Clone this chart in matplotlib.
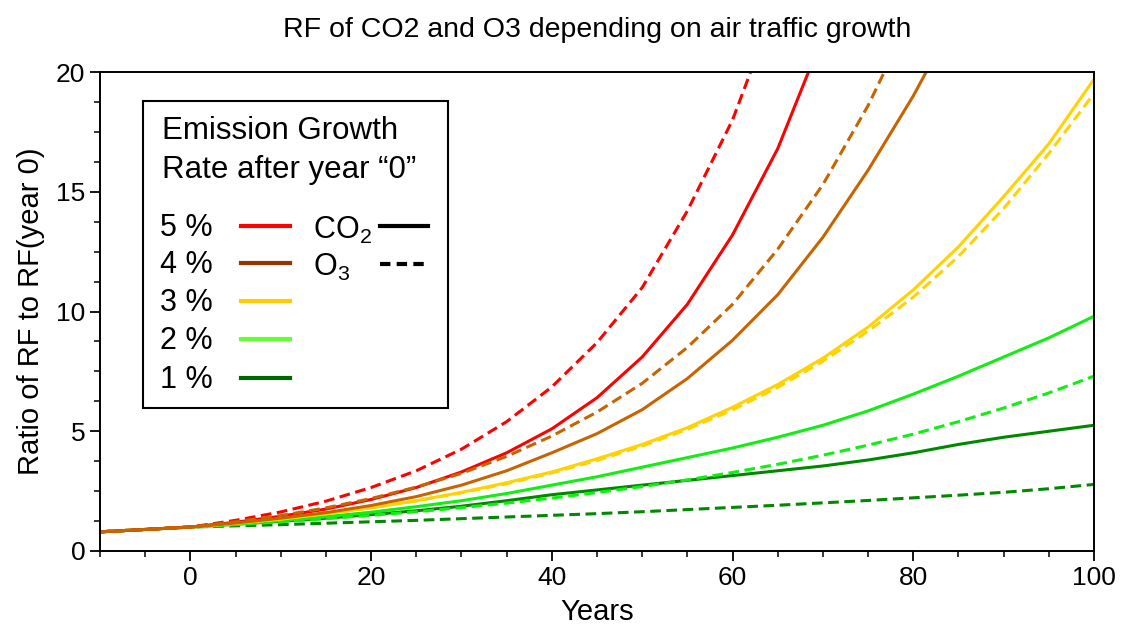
import numpy as np
import matplotlib
matplotlib.use("Agg")
import matplotlib.pyplot as plt
from matplotlib.lines import Line2D
from matplotlib.patches import Rectangle
from matplotlib.ticker import MultipleLocator

plt.rcParams['font.family'] = ['Liberation Sans', 'DejaVu Sans']
plt.rcParams['mathtext.fontset'] = 'custom'
plt.rcParams['mathtext.rm'] = 'Liberation Sans'
plt.rcParams['mathtext.it'] = 'Liberation Sans'

# years, every 5 years from -10
years = np.arange(-10, 101, 5)

# ratio of RF to RF(year 0)
co2_5 = [0.8, 0.9, 1.0, 1.2, 1.45, 1.75, 2.15, 2.65, 3.3, 4.1, 5.1, 6.4, 8.1, 10.3, 13.2, 16.8, 21.5]
o3_5 = [0.8, 0.9, 1.0, 1.28, 1.63, 2.08, 2.65, 3.35, 4.25, 5.4, 6.85, 8.7, 11.0, 14.2, 18.0, 23.0]
co2_4 = [0.8, 0.9, 1.0, 1.17, 1.37, 1.6, 1.9, 2.27, 2.75, 3.35, 4.1, 4.9, 5.9, 7.2, 8.8, 10.7, 13.1, 15.9, 19.0, 22.5]
o3_4 = [0.8, 0.9, 1.0, 1.22, 1.48, 1.8, 2.19, 2.67, 3.24, 3.95, 4.8, 5.8, 7.0, 8.5, 10.3, 12.6, 15.3, 18.6, 22.5]
co2_3 = [0.8, 0.9, 1.0, 1.15, 1.33, 1.55, 1.8, 2.1, 2.45, 2.85, 3.3, 3.85, 4.45, 5.15, 6.0, 6.95, 8.05, 9.35, 10.9, 12.7, 14.8, 17.0, 19.7]
o3_3 = [0.8, 0.9, 1.0, 1.16, 1.34, 1.56, 1.81, 2.09, 2.43, 2.81, 3.26, 3.78, 4.38, 5.08, 5.89, 6.83, 7.92, 9.18, 10.6, 12.3, 14.3, 16.6, 19.1]
co2_2 = [0.8, 0.9, 1.0, 1.12, 1.26, 1.43, 1.62, 1.85, 2.1, 2.4, 2.75, 3.1, 3.5, 3.9, 4.3, 4.75, 5.25, 5.85, 6.55, 7.3, 8.1, 8.9, 9.8]
o3_2 = [0.8, 0.9, 1.0, 1.10, 1.22, 1.35, 1.49, 1.64, 1.81, 2.0, 2.21, 2.44, 2.69, 2.97, 3.28, 3.62, 4.0, 4.42, 4.88, 5.4, 5.97, 6.6, 7.3]
co2_1 = [0.8, 0.9, 1.0, 1.12, 1.24, 1.37, 1.52, 1.68, 1.87, 2.1, 2.35, 2.55, 2.75, 2.95, 3.15, 3.35, 3.55, 3.8, 4.1, 4.45, 4.75, 5.0, 5.25]
o3_1 = [0.8, 0.9, 1.0, 1.05, 1.10, 1.16, 1.22, 1.28, 1.35, 1.42, 1.49, 1.56, 1.64, 1.73, 1.82, 1.91, 2.01, 2.11, 2.22, 2.33, 2.45, 2.6, 2.78]

rates = ['5 %', '4 %', '3 %', '2 %', '1 %']
line_colors = ['#ff0000', '#c86400', '#ffd200', '#11ee11', '#008800']
legend_colors = ['#ff0000', '#993300', '#ffcc00', '#66ff33', '#006600']
co2 = [co2_5, co2_4, co2_3, co2_2, co2_1]
o3 = [o3_5, o3_4, o3_3, o3_2, o3_1]

fig = plt.figure(figsize=(11.22, 6.26), dpi=100)
ax = fig.add_axes([100/1122, 1 - 551/626, 994/1122, 479/626])

lw = 2.2
for i in [4, 3, 2, 0, 1]:
    c = line_colors[i]
    ax.plot(years[:len(co2[i])], co2[i], color=c, lw=lw, solid_capstyle='butt')
    ax.plot(years[:len(o3[i])], o3[i], color=c, lw=lw, ls=(0, (3.5, 1.8)))

ax.set_xlim(-10, 100)
ax.set_ylim(0, 20)
ax.xaxis.set_major_locator(MultipleLocator(20))
ax.xaxis.set_minor_locator(MultipleLocator(5))
ax.yaxis.set_major_locator(MultipleLocator(5))
ax.yaxis.set_minor_locator(MultipleLocator(1.25))
ax.tick_params(which='major', direction='out', length=7, width=1.3, labelsize=19)
ax.tick_params(which='minor', direction='out', length=4, width=1.1)
for s in ax.spines.values():
    s.set_linewidth(1.4)

ax.set_xlabel('Years', fontsize=21, labelpad=6)
ax.set_ylabel('Ratio of RF to RF(year 0)', fontsize=21, labelpad=8)
fig.text(597/1122, 1 - 30/626, 'RF of CO2 and O3 depending on air traffic growth',
         ha='center', va='center', fontsize=20.5)

# legend box, positions in pixel units of the figure
def fx(px):
    return px / 1122

def fy(py):
    return 1 - py / 626

fig.patches.append(Rectangle((fx(143), fy(408)), fx(448) - fx(143), fy(101) - fy(408),
                             transform=fig.transFigure, fill=True, facecolor='white',
                             edgecolor='black', lw=1.5, zorder=5))
fig.text(fx(162), fy(131), 'Emission Growth', fontsize=22.5, va='center', ha='left', zorder=6)
fig.text(fx(162), fy(170), 'Rate after year “0”', fontsize=22.5, va='center', ha='left', zorder=6)

row_y = [228, 265, 303, 341, 380]
for lab, c, py in zip(rates, legend_colors, row_y):
    fig.text(fx(160), fy(py), lab, fontsize=22, va='center', ha='left', zorder=6)
    fig.lines.append(Line2D([fx(241), fx(290)], [fy(py - 2), fy(py - 2)], color=c, lw=3,
                            transform=fig.transFigure, zorder=6))

fig.text(fx(313), fy(230), 'CO$_2$', fontsize=22, va='center', ha='left', zorder=6)
fig.text(fx(313), fy(267), 'O$_3$', fontsize=22, va='center', ha='left', zorder=6)
fig.lines.append(Line2D([fx(380), fx(428)], [fy(226), fy(226)], color='black', lw=3,
                        transform=fig.transFigure, zorder=6))
fig.lines.append(Line2D([fx(380), fx(428)], [fy(264), fy(264)], color='black', lw=3,
                        ls=(0, (2.5, 1.5)), transform=fig.transFigure, zorder=6))

fig.savefig('out.png', dpi=100)
